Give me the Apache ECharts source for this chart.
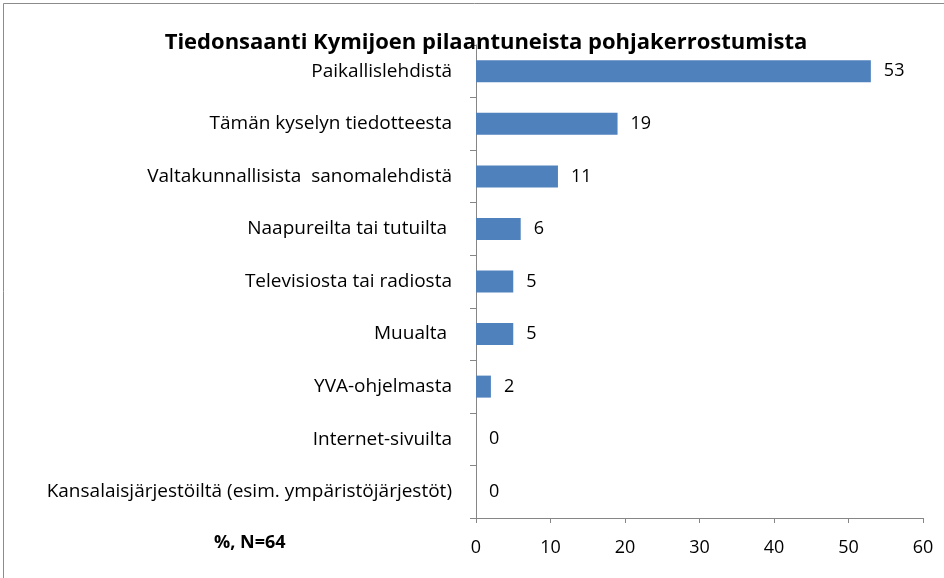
<!DOCTYPE html>
<html>
<head>
<meta charset="utf-8">
<script src="https://cdn.jsdelivr.net/npm/echarts@6/dist/echarts.min.js"></script>
<style>
html,body{margin:0;padding:0;background:#fff;}
#chart{width:944px;height:578px;}
</style>
</head>
<body>
<div id="chart"></div>
<script>
// lähteet (ylhäältä alas)
var categories = [
    'Paikallislehdistä',
    'Tämän kyselyn tiedotteesta',
    'Valtakunnallisista  sanomalehdistä',
    'Naapureilta tai tutuilta ',
    'Televisiosta tai radiosta',
    'Muualta ',
    'YVA-ohjelmasta',
    'Internet-sivuilta',
    'Kansalaisjärjestöiltä (esim. ympäristöjärjestöt)'
];
var values = [53, 19, 11, 6, 5, 5, 2, 0, 0];
var xTicks = [0, 10, 20, 30, 40, 50, 60];

var fontName = 'Open Sans';
var chart = echarts.init(document.getElementById('chart'));
var option = {
    animation: false,
    backgroundColor: '#fff',
    title: {
        text: 'Tiedonsaanti Kymijoen pilaantuneista pohjakerrostumista',
        left: 481,
        top: 27,
        textAlign: 'center',
        textStyle: {
            fontFamily: fontName,
            fontWeight: 'bold',
            fontSize: 22,
            color: '#000'
        }
    },
    graphic: [{
        type: 'rect',
        shape: {x: 3.5, y: 3.5, width: 950, height: 590},
        style: {fill: null, stroke: '#8c8c8c', lineWidth: 1},
        z: -1
    }, {
        type: 'text',
        left: 214,
        top: 534,
        style: {
            text: '%, N=64',
            fontFamily: fontName,
            fontWeight: 'bold',
            fontSize: 18,
            fill: '#000'
        }
    }],
    grid: {
        left: 476,
        right: 21,
        top: 45,
        bottom: 60
    },
    xAxis: {
        type: 'value',
        min: xTicks[0],
        max: xTicks[xTicks.length - 1],
        interval: 10,
        axisLine: {show: true, lineStyle: {color: '#868686', width: 1}},
        axisTick: {show: true, length: 5, lineStyle: {color: '#868686'}},
        splitLine: {show: false},
        axisLabel: {
            margin: 21,
            fontFamily: fontName,
            fontSize: 18,
            color: '#000'
        }
    },
    yAxis: {
        type: 'category',
        inverse: true,
        data: categories,
        axisLine: {show: true, lineStyle: {color: '#868686', width: 1}},
        axisTick: {show: true, length: 6, lineStyle: {color: '#868686'}},
        axisLabel: {
            margin: 24,
            fontFamily: fontName,
            fontSize: 19,
            color: '#000'
        }
    },
    series: [{
        type: 'bar',
        data: values,
        barWidth: 22,
        itemStyle: {color: '#4f81bd'},
        label: {
            show: true,
            position: 'right',
            distance: 13,
            fontFamily: fontName,
            fontSize: 18,
            color: '#000'
        }
    }]
};
chart.setOption(option);
</script>
</body>
</html>
